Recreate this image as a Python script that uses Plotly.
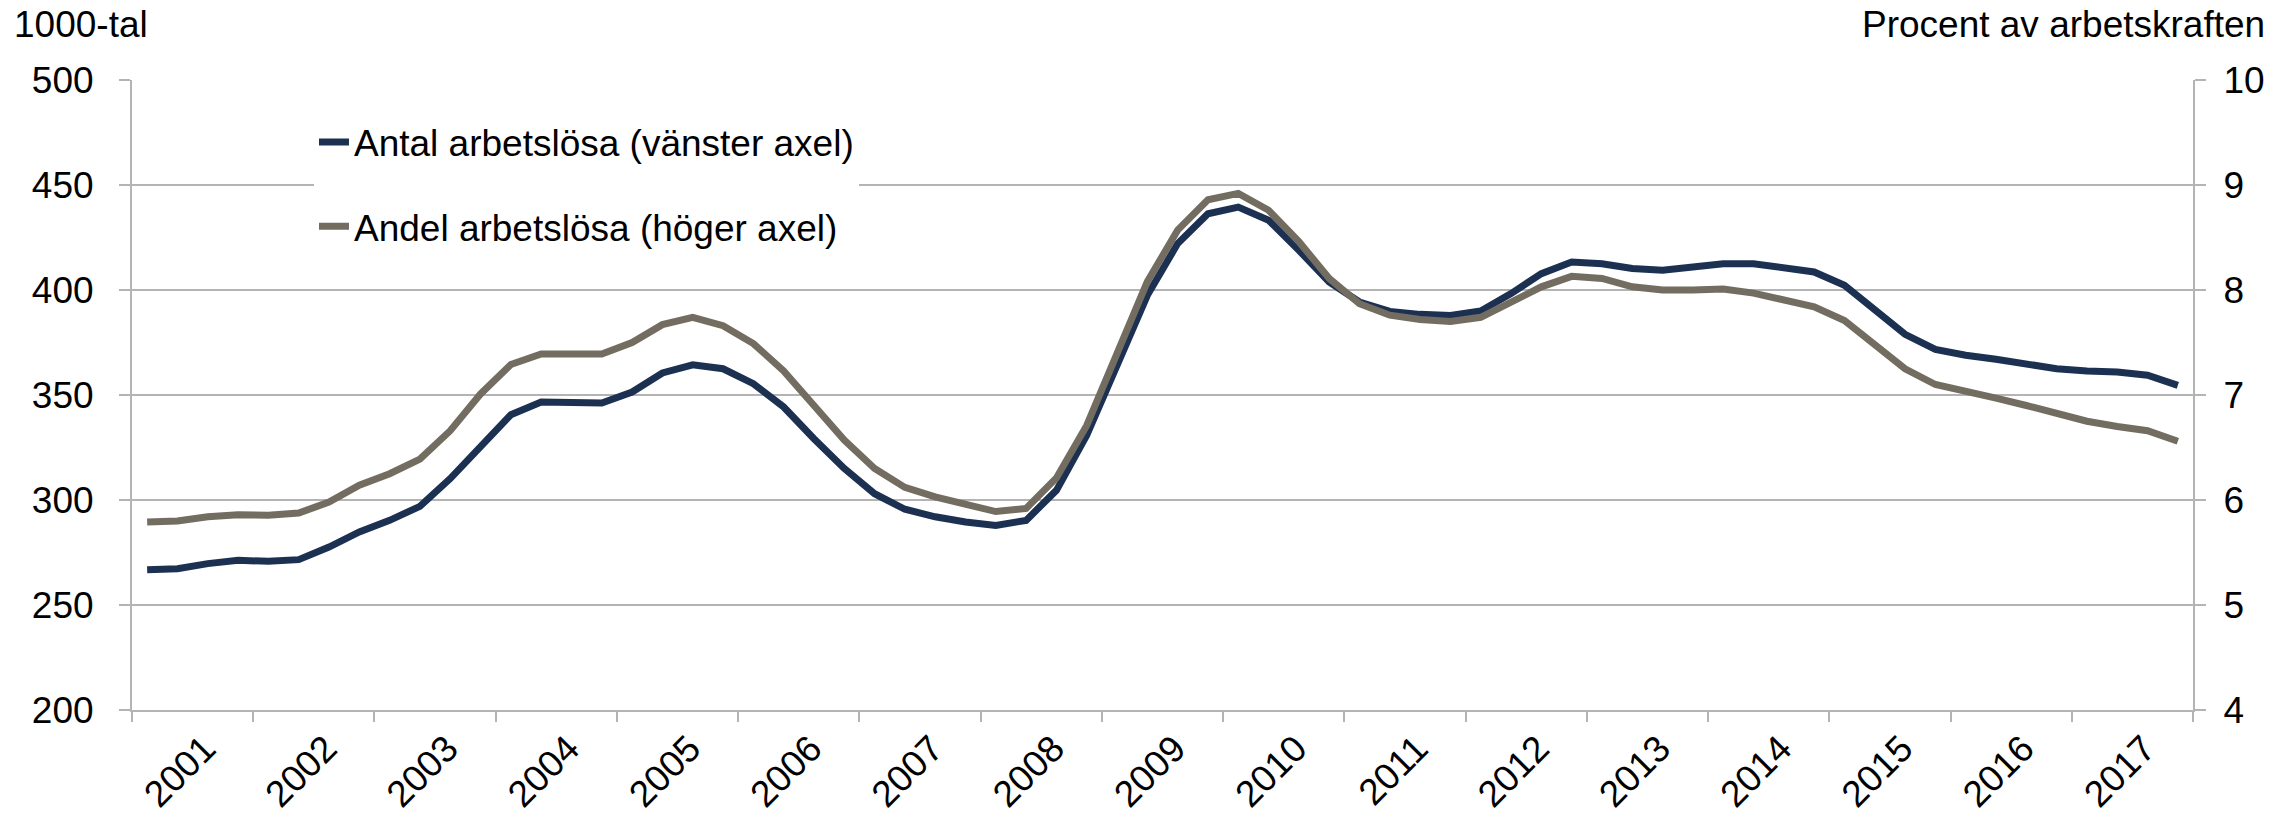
import plotly.graph_objects as go

years = [str(y) for y in range(2001, 2018)]
quarters = [f"{y}K{q}" for y in range(2001, 2018) for q in range(1, 5)]

antal = [
    266.8, 267.3, 269.7, 271.3, 270.8, 271.6, 277.6, 284.8, 290.3, 297.0, 310.2, 326.0, 340.6, 346.7,
    346.7, 346.2, 351.4, 360.5, 364.4, 362.5, 355.4, 344.3, 329.2, 315.0, 303.0, 295.6, 292.0,
    289.5, 287.9, 290.3, 304.6, 330.8, 364.1, 397.5, 422.1, 436.3, 439.5, 433.2, 418.9, 403.8, 394.3,
    389.8, 388.4, 387.9, 390.0, 398.3, 407.8, 413.3, 412.5, 410.2, 409.4, 411.0, 412.5, 412.5, 410.8,
    408.6, 402.2, 390.3, 378.9, 371.7, 368.9, 367.0, 364.6, 362.5, 361.4, 361.0, 359.4, 354.6,
]

andel = [
    5.79, 5.80, 5.84, 5.86, 5.855, 5.876, 5.98, 6.14, 6.25, 6.39, 6.66, 7.01, 7.29, 7.39,
    7.39, 7.39, 7.50, 7.67, 7.74, 7.66, 7.49, 7.23, 6.90, 6.57, 6.30, 6.12, 6.03,
    5.965, 5.89, 5.92, 6.21, 6.71, 7.41, 8.08, 8.57, 8.86, 8.92, 8.76, 8.46, 8.11, 7.87,
    7.76, 7.72, 7.70, 7.74, 7.89, 8.03, 8.13, 8.11, 8.03, 8.00, 8.00, 8.01, 7.97, 7.91,
    7.84, 7.71, 7.49, 7.25, 7.10, 7.04, 6.97, 6.90, 6.82, 6.75, 6.70, 6.66, 6.56,
]

left_ticks = [200, 250, 300, 350, 400, 450, 500]
right_ticks = [4, 5, 6, 7, 8, 9, 10]

name_antal = "Antal arbetslösa (vänster axel)"
name_andel = "Andel arbetslösa (höger axel)"

FONT = "Liberation Sans, Arial, sans-serif"
FS = 37
GRID = "#b4b4b4"
NAVY = "#1c3152"
GRAY = "#736d61"

n = len(quarters)
idx = list(range(n))
year_label_pos = [4 * k + 1.9 for k in range(len(years))]
year_bounds = [4 * k - 0.5 for k in range(len(years) + 1)]

fig = go.Figure()
fig.add_trace(go.Scatter(
    x=idx, y=antal, name=name_antal, mode="lines",
    line=dict(color=NAVY, width=7), legendgroup="a",
    xaxis="x", yaxis="y", text=quarters,
))
fig.add_trace(go.Scatter(
    x=idx, y=andel, name=name_andel, mode="lines",
    line=dict(color=GRAY, width=7), legendgroup="b",
    xaxis="x2", yaxis="y2", text=quarters,
))

fig.update_layout(
    width=2279, height=815,
    margin=dict(l=132, r=86, t=80, b=105),
    paper_bgcolor="white", plot_bgcolor="white",
    font=dict(family=FONT, size=FS, color="black"),
    showlegend=True,
    legend=dict(
        x=0.0883, y=0.95, xanchor="left", yanchor="top",
        bgcolor="white", borderwidth=0,
        font=dict(family=FONT, size=FS, color="black"),
        traceorder="grouped", tracegroupgap=33,
    ),
    xaxis=dict(
        range=[-0.5, n - 0.5], tickmode="array", tickvals=year_label_pos, ticktext=years,
        tickangle=-45, ticks="", showgrid=False, zeroline=False,
        showline=True, linecolor=GRID, linewidth=2,
        tickfont=dict(family=FONT, size=FS, color="black"), automargin=False,
    ),
    xaxis2=dict(
        range=[-0.5, n - 0.5], overlaying="x", anchor="y", side="bottom",
        tickmode="array", tickvals=year_bounds, ticks="outside", ticklen=11,
        tickcolor=GRID, tickwidth=2, showticklabels=False, showgrid=False,
        zeroline=False, showline=False,
    ),
    yaxis=dict(
        range=[200, 500], tickmode="array", tickvals=left_ticks,
        showgrid=True, gridcolor=GRID, gridwidth=2, zeroline=False,
        showline=True, linecolor=GRID, linewidth=2,
        ticks="outside", ticklen=11, tickcolor=GRID, tickwidth=2,
        ticklabelstandoff=18,
        tickfont=dict(family=FONT, size=FS, color="black"), automargin=False,
    ),
    yaxis2=dict(
        range=[4, 10], tickmode="array", tickvals=right_ticks,
        overlaying="y", anchor="x", side="right",
        showgrid=False, zeroline=False,
        showline=True, linecolor=GRID, linewidth=2,
        ticks="outside", ticklen=11, tickcolor=GRID, tickwidth=2,
        ticklabelstandoff=10,
        tickfont=dict(family=FONT, size=FS, color="black"), automargin=False,
    ),
    annotations=[
        dict(text="1000-tal", xref="paper", yref="paper", x=-0.058, y=1.0,
             xanchor="left", yanchor="bottom", yshift=33, showarrow=False,
             font=dict(family=FONT, size=FS, color="black")),
        dict(text="Procent av arbetskraften", xref="paper", yref="paper", x=1.036, y=1.0,
             xanchor="right", yanchor="bottom", yshift=33, showarrow=False,
             font=dict(family=FONT, size=FS, color="black")),
    ],
)

fig.write_html(
    "out.html",
    config={"displayModeBar": False},
    post_script="document.body.style.margin='0';document.body.style.overflow='hidden';",
)
